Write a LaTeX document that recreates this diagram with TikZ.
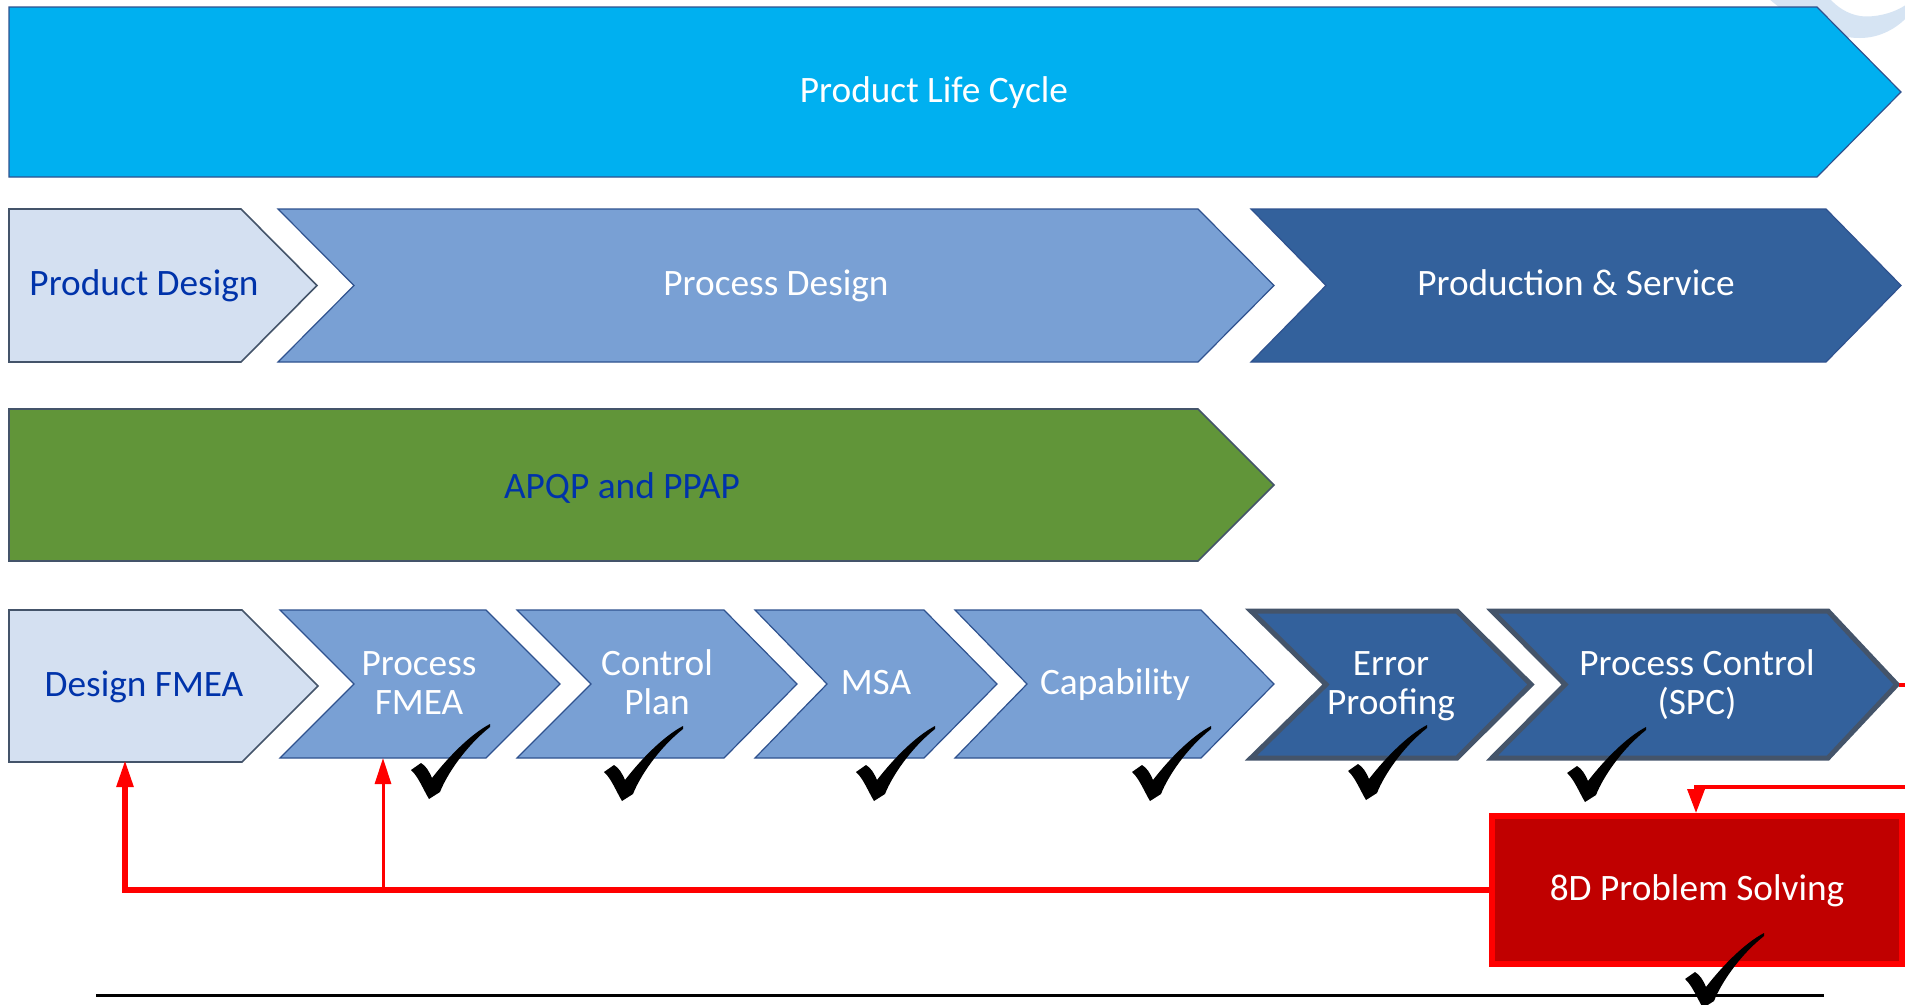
\documentclass[tikz,border=0pt]{standalone}
\usepackage{fontspec}
\setmainfont{Carlito}
\usetikzlibrary{arrows.meta,calc}
\definecolor{skyfill}{HTML}{00B0F0}
\definecolor{palefill}{HTML}{D4E0F1}
\definecolor{midfill}{HTML}{79A0D4}
\definecolor{darkfill}{HTML}{33619C}
\definecolor{greenfill}{HTML}{619539}
\definecolor{edgeblue}{HTML}{2F528F}
\definecolor{edgeslate}{HTML}{44546A}
\definecolor{textblue}{HTML}{0033AA}
\definecolor{boxred}{HTML}{C00000}
\definecolor{ghost}{HTML}{D6E4F3}
\tikzset{
  x=1pt,y=-1pt,
  sky/.style={fill=skyfill,draw=edgeblue,line width=1.2pt},
  pale/.style={fill=palefill,draw=edgeslate,line width=1.6pt},
  mid/.style={fill=midfill,draw=edgeblue,line width=1.2pt},
  dark/.style={fill=darkfill,draw=edgeblue,line width=1.2pt},
  darkthick/.style={fill=darkfill,draw=edgeslate,line width=5pt,miter limit=10},
  grn/.style={fill=greenfill,draw=edgeslate,line width=1.6pt},
  lbl/.style={font=\fontsize{37.3}{39}\selectfont,align=center,text=white,inner sep=0pt},
  lblblue/.style={lbl,text=textblue},
  feedback/.style={draw=red,line width=5.5pt,-{Triangle[length=27pt,width=16pt]}},
  feedthin/.style={draw=red,line width=3pt,-{Triangle[length=26pt,width=16pt]}},
  feedtop/.style={draw=red,line width=3.5pt,-{Triangle[length=24pt,width=17pt]}},
}
% left, notch, shoulder, tip, top, bottom, style
\newcommand{\chev}[7]{\path[#7] (#1,#5) -- (#3,#5) -- (#4,{(#5+#6)/2}) -- (#3,#6) -- (#1,#6) -- (#2,{(#5+#6)/2}) -- cycle;}
\newcommand{\tick}[2]{\fill[black,shift={(#1,#2)}] (79,0) .. controls (60,10) and (38,32) .. (21,54)
  .. controls (18,47) and (15,42) .. (10,39) -- (0,46)
  .. controls (7,52) and (12,65) .. (18,75) -- (29,68)
  .. controls (36,50) and (55,22) .. (79,3) -- cycle;}
\begin{document}
\begin{tikzpicture}
\useasboundingbox (0,0) rectangle (1905,1004);
\fill[white] (0,0) rectangle (1905,1004);
\path[clip] (0,0) rectangle (1905,1004);
\fill[ghost] (1768,-2) .. controls (1795,22) and (1830,38) .. (1860,38) .. controls (1880,38) and (1897,28) .. (1907,17)
  -- (1907,4) .. controls (1895,13) and (1875,18) .. (1860,16) .. controls (1848,14) and (1838,8) .. (1829,-2) -- cycle;
% top band
\chev{9}{9}{1817}{1901}{7}{177}{sky}
\node[lbl] (life) at (934,95) {\strut Product Life Cycle};
% second band
\chev{9}{9}{241}{317}{209}{362}{pale}
\node[lblblue] (pdes) at (144,288) {\strut Product Design};
\chev{278}{354}{1198}{1274}{209}{362}{mid}
\node[lbl] (prdes) at (776,288) {\strut Process Design};
\chev{1251}{1326}{1826}{1901}{209}{362}{dark}
\node[lbl] (prod) at (1576,288) {\strut Production \& Service};
% third band
\chev{9}{9}{1198}{1274}{409}{561}{grn}
\node[lblblue] (apqp) at (622,491) {\strut APQP and PPAP};
% fourth band
\chev{9}{9}{242}{318}{610}{762}{pale}
\node[lblblue] (dfmea) at (144,689) {\strut Design FMEA};
\chev{280}{354}{486}{560}{610}{758}{mid}
\node[lbl] (pfmea) at (419,687) {\strut Process\\\strut FMEA};
\chev{517}{591}{724}{797}{610}{758}{mid}
\node[lbl] (cplan) at (657,687) {\strut Control\\\strut Plan};
\chev{755}{827}{924}{997}{610}{758}{mid}
\node[lbl] (msa) at (876,687) {\strut MSA};
\chev{955}{1027}{1201}{1274}{610}{758}{mid}
\node[lbl] (cap) at (1115,687) {\strut Capability};
\chev{1251}{1326}{1457}{1531}{611}{758}{darkthick}
\node[lbl] (err) at (1391,687) {\strut Error\\\strut Proofing};
\chev{1492}{1565}{1828}{1897}{611}{758}{darkthick}
\node[lbl] (spc) at (1697,687) {\strut Process Control\\\strut (SPC)};
% 8D box
\node[lbl,fill=boxred,draw=red,line width=6pt,minimum width=410pt,minimum height=148pt,anchor=north west,text depth=7pt] (eightd) at (1489,813) {\strut 8D Problem Solving};
% anchors for connectors
\coordinate (dport) at (125,760);
\coordinate (pport) at (383,758);
\coordinate (junction) at (383,890);
\coordinate (corner) at (125,890);
\coordinate (tipout) at (1899,685);
\coordinate (offr) at (1912,685);
\coordinate (offb) at (1912,787);
\coordinate (drop) at (1696,787);
\coordinate (baseL) at (96,995);
\coordinate (baseR) at (1824,995);
% connectors
\draw[feedback] (eightd.west |- corner) -- (corner) -- (dport);
\draw[feedthin] (junction) -- (pport);
\draw[feedtop] (tipout) -- (offr) -- (offb) -- (drop) -- (eightd.north -| drop);
\draw[black,line width=3pt] (baseL) -- (baseR);
% ticks
\tick{411}{724}
\tick{604}{726}
\tick{856}{726}
\tick{1132}{726}
\tick{1348}{725}
\tick{1567}{727}
\tick{1685}{933}
\end{tikzpicture}
\end{document}
